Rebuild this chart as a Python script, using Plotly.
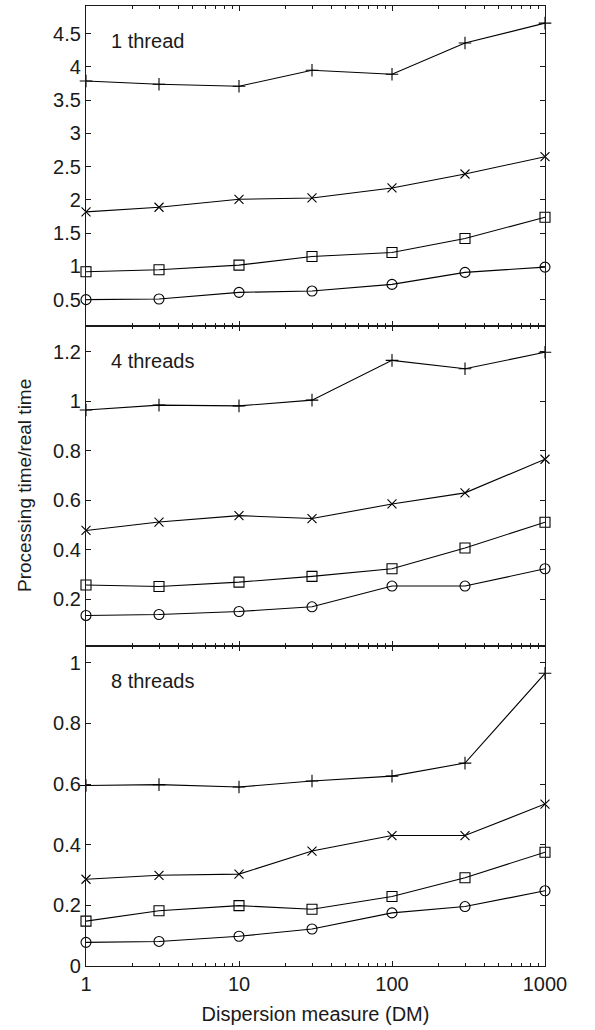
import plotly.graph_objects as go
from plotly.subplots import make_subplots

# Dispersion measure values (x axis, log scale)
dm = [1, 3, 10, 30, 100, 300, 1000]

# Processing time / real time, one panel per thread count
panel_labels = ["1 thread", "4 threads", "8 threads"]

t1_plus = [3.79, 3.74, 3.71, 3.95, 3.89, 4.36, 4.66]
t1_x = [1.82, 1.89, 2.01, 2.03, 2.18, 2.39, 2.65]
t1_square = [0.92, 0.95, 1.02, 1.15, 1.21, 1.42, 1.74]
t1_circle = [0.50, 0.51, 0.61, 0.63, 0.73, 0.91, 0.99]

t4_plus = [0.965, 0.985, 0.982, 1.005, 1.166, 1.132, 1.199]
t4_x = [0.478, 0.512, 0.538, 0.526, 0.585, 0.630, 0.766]
t4_square = [0.257, 0.251, 0.269, 0.292, 0.323, 0.407, 0.511]
t4_circle = [0.134, 0.138, 0.150, 0.169, 0.253, 0.253, 0.323]

t8_plus = [0.595, 0.598, 0.590, 0.610, 0.626, 0.669, 0.965]
t8_x = [0.286, 0.299, 0.303, 0.379, 0.430, 0.430, 0.534]
t8_square = [0.148, 0.182, 0.199, 0.187, 0.229, 0.291, 0.375]
t8_circle = [0.078, 0.081, 0.098, 0.122, 0.175, 0.196, 0.248]

panels = [
    [t1_plus, t1_x, t1_square, t1_circle],
    [t4_plus, t4_x, t4_square, t4_circle],
    [t8_plus, t8_x, t8_square, t8_circle],
]

y_ranges = [[0.104, 4.917], [0.0105, 1.305], [0.0, 1.055]]
y_dticks = [0.5, 0.2, 0.2]

symbols = ["cross-thin", "x-thin", "square-open", "circle-open"]
sizes = [9, 9, 10, 10]

FONT = "Liberation Sans, Arial, Helvetica, sans-serif"
INK = "#1a1a1a"

fig = make_subplots(rows=3, cols=1, shared_xaxes=True, vertical_spacing=0)

for r, series in enumerate(panels, start=1):
    for ys, sym, sz in zip(series, symbols, sizes):
        fig.add_trace(
            go.Scatter(
                x=dm, y=ys, mode="lines+markers",
                line=dict(color="black", width=1.1),
                marker=dict(symbol=sym, size=sz, color="black",
                            line=dict(color="black", width=1.1)),
                cliponaxis=False, showlegend=False,
            ),
            row=r, col=1,
        )

minor_vals = [m * 10 ** k for k in range(3) for m in range(2, 10)]

for r in range(1, 4):
    fig.update_xaxes(
        type="log", range=[0, 3],
        tickvals=[1, 10, 100, 1000], ticktext=["1", "10", "100", "1000"],
        showticklabels=(r == 3),
        ticks="inside", ticklen=5, tickwidth=1.2, tickcolor=INK,
        minor=dict(tickmode="array", tickvals=minor_vals, ticks="inside",
                   ticklen=3, tickwidth=1, tickcolor=INK),
        showline=True, linecolor=INK, linewidth=1.3, mirror="ticks",
        showgrid=False, zeroline=False,
        tickfont=dict(family=FONT, size=20, color=INK),
        row=r, col=1,
    )
    fig.update_yaxes(
        range=y_ranges[r - 1], dtick=y_dticks[r - 1], tick0=0,
        ticks="inside", ticklen=5, tickwidth=1.2, tickcolor=INK,
        showline=True, linecolor=INK, linewidth=1.3, mirror="ticks",
        showgrid=False, zeroline=False,
        tickfont=dict(family=FONT, size=20, color=INK),
        row=r, col=1,
    )

fig.update_xaxes(title=dict(text="Dispersion measure (DM)", standoff=12,
                            font=dict(family=FONT, size=20, color=INK)),
                 row=3, col=1)

fig.add_annotation(
    text="Processing time/real time", textangle=-90,
    xref="paper", yref="paper", x=-0.135, y=0.5,
    xanchor="center", yanchor="middle", showarrow=False,
    font=dict(family=FONT, size=19, color=INK),
)

for i, label in enumerate(panel_labels):
    yref = "y domain" if i == 0 else f"y{i + 1} domain"
    xref = "x domain" if i == 0 else f"x{i + 1} domain"
    fig.add_annotation(
        text=label, xref=xref, yref=yref, x=0.05, y=0.89,
        xanchor="left", yanchor="middle", showarrow=False,
        font=dict(family=FONT, size=20, color=INK),
    )

fig.update_layout(
    width=595, height=1030,
    margin=dict(l=86, r=50, t=6, b=64),
    paper_bgcolor="white", plot_bgcolor="white",
    font=dict(family=FONT, color=INK),
)

fig.write_html("out.html")
